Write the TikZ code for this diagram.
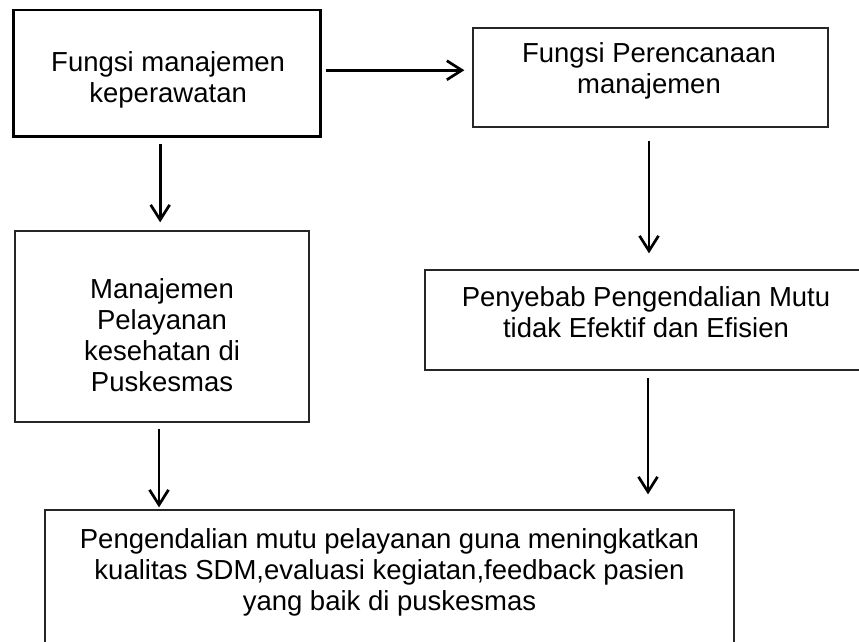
\documentclass[tikz,border=0pt]{standalone}
\usepackage{fontspec}
\setmainfont{Liberation Sans}
\usetikzlibrary{arrows.meta,calc}
\begin{document}
\begin{tikzpicture}[x=1pt,y=-1pt,
  thickbox/.style={draw=black,line width=2.7pt,inner sep=0pt,rectangle},
  thinbox/.style={draw=black!85,line width=1.3pt,inner sep=0pt,rectangle},
  txt/.style={align=center,inner sep=0pt,anchor=north,font=\fontsize{27.5}{31}\selectfont},
  arr/.style={line width=2.7pt,-{Straight Barb[length=15pt,width=19pt]}}]
\useasboundingbox (0,0) rectangle (859,642);
\clip (0,0) rectangle (859,642);
\fill[white] (0,0) rectangle (859,642);
% boxes
\node[thickbox,minimum width=306.9pt,minimum height=126.5pt] (b1) at (167.15,73.25) {};
\node[thinbox,minimum width=355pt,minimum height=99pt] (b2) at (650.5,77.5) {};
\node[thinbox,minimum width=294pt,minimum height=191pt] (b3) at (162,326.5) {};
\node[thinbox,minimum width=441pt,minimum height=100pt] (b4) at (645.5,320) {};
\node[thinbox,minimum width=689pt,minimum height=140pt] (b5) at (389.5,580) {};
% texts
\node[txt] (t1) at ($(b1.north)+(1,43.2)$) {Fungsi manajemen\\keperawatan};
\node[txt] (t2) at ($(b2.north)+(-1.5,15.2)$) {Fungsi Perencanaan\\manajemen};
\node[txt] (t3) at ($(b3.north)+(0,48.2)$) {Manajemen\\Pelayanan\\kesehatan di\\Puskesmas};
\node[txt] (t4) at ($(b4.north)+(0.5,17.2)$) {Penyebab Pengendalian Mutu\\tidak Efektif dan Efisien};
\node[txt] (t5) at ($(b5.north)+(0,19.5)$) {Pengendalian mutu pelayanan guna meningkatkan\\kualitas SDM,evaluasi kegiatan,feedback pasien\\yang baik di puskesmas};
% arrows
\draw[arr] ($(b1.east)+(4.5,-3)$) -- ($(b1.east -| b2.west)+(-8,-3)$);
\draw[arr] ($(b1.south)+(-7,6.5)$) -- ($(b1.south |- b3.north)+(-7,-8)$);
\draw[arr] ($(b2.south)+(-1.5,13)$) -- ($(b2.south |- b4.north)+(-1.5,-16)$);
\draw[arr] ($(b3.south)+(-3,6)$) -- ($(b3.south |- b5.north)+(-3,-2)$);
\draw[arr] ($(b4.south)+(2.5,7)$) -- ($(b4.south |- b5.north)+(2.5,-15)$);
\end{tikzpicture}
\end{document}
